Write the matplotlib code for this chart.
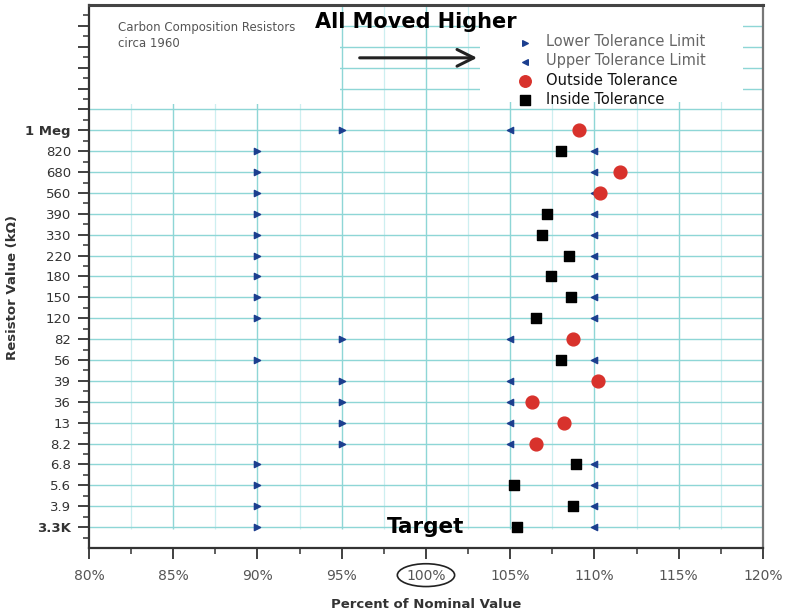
import numpy as np
from matplotlib import pyplot as plt
from matplotlib.patches import Ellipse, Rectangle
from matplotlib import transforms

plt.rcParams["font.family"] = ["DejaVu Sans"]

# resistor values, bottom row first
resistors = ["3.3K", "3.9", "5.6", "6.8", "8.2", "13", "36", "39", "56", "82",
             "120", "150", "180", "220", "330", "390", "560", "680", "820", "1 Meg"]
lower_limit = [90, 90, 90, 90, 95, 95, 95, 95, 90, 95,
               90, 90, 90, 90, 90, 90, 90, 90, 90, 95]
upper_limit = [110, 110, 110, 110, 105, 105, 105, 105, 110, 105,
               110, 110, 110, 110, 110, 110, 110, 110, 110, 105]
measured = [105.4, 108.7, 105.2, 108.9, 106.5, 108.2, 106.3, 110.2, 108.0, 108.7,
            106.5, 108.6, 107.4, 108.5, 106.9, 107.2, 110.3, 111.5, 108.0, 109.1]
x_ticks = [80, 85, 90, 95, 100, 105, 110, 115, 120]

BLUE = "#1c3f8f"
RED = "#d8322c"
GRID = "#8ed6d6"
GRID_MINOR = "#cdeff0"

y = np.arange(1, len(resistors) + 1)
lo = np.array(lower_limit)
hi = np.array(upper_limit)
val = np.array(measured)
outside = (val > hi) | (val < lo)

fig = plt.figure(figsize=(7.89, 6.16), dpi=100)
ax = fig.add_axes([0.1128, 0.1104, 0.8542, 0.8815])
ax.set_xlim(80, 120)
ax.set_ylim(0, 26)

# grid: vertical lines stop just under the bottom row
for xv in np.arange(82.5, 120, 5):
    ax.vlines(xv, 0.9, 26, color=GRID_MINOR, lw=0.9, zorder=0)
for xv in np.arange(85, 120, 5):
    ax.vlines(xv, 0.9, 26, color=GRID, lw=1.0, zorder=0)
for yv in np.arange(1, 26, 1):
    ax.axhline(yv, color=GRID, lw=1.0, zorder=0)

# white panels behind the note and the legend
ax.add_patch(Rectangle((0, 0.818), 0.372, 0.182, transform=ax.transAxes,
                       facecolor="white", edgecolor="none", zorder=1))
ax.add_patch(Rectangle((0.58, 0.822), 0.39, 0.178, transform=ax.transAxes,
                       facecolor="white", edgecolor="none", zorder=1))

ax.scatter(lo, y, marker=">", s=20, color=BLUE, zorder=3, label="Lower Tolerance Limit")
ax.scatter(hi, y, marker="<", s=20, color=BLUE, zorder=3, label="Upper Tolerance Limit")
ax.scatter(val[outside], y[outside], marker="o", s=85, color=RED, zorder=4,
           label="Outside Tolerance")
ax.scatter(val[~outside], y[~outside], marker="s", s=62, color="black", zorder=4,
           label="Inside Tolerance")

# ticks
ax.set_yticks(list(y) + list(range(21, 26)))
ax.set_yticklabels(resistors + [""] * 5, fontsize=9.5, color="#333333")
for lab in ax.get_yticklabels():
    if lab.get_text() in ("1 Meg", "3.3K"):
        lab.set_fontweight("bold")
ax.set_yticks(np.arange(0.5, 26, 0.5), minor=True)
ax.set_xticks(x_ticks)
ax.set_xticklabels([f"{v}%" for v in x_ticks], fontsize=10, color="#555555")
ax.set_xticks(np.arange(82.5, 120, 5), minor=True)
ax.tick_params(axis="both", which="major", direction="out", length=8, width=1.3,
               color="#333333")
ax.tick_params(axis="x", which="major", pad=7)
ax.tick_params(axis="y", which="major", pad=5)
ax.tick_params(axis="both", which="minor", direction="out", length=4, width=1.1,
               color="#333333")

for side in ("left", "bottom"):
    ax.spines[side].set_color("#333333")
    ax.spines[side].set_linewidth(1.6)
ax.spines["top"].set_color("#444444")
ax.spines["top"].set_linewidth(2.2)
ax.spines["right"].set_color("#777777")
ax.spines["right"].set_linewidth(1.6)

ax.set_xlabel("Percent of Nominal Value", fontsize=9.5, fontweight="bold",
              color="#333333")
ax.xaxis.set_label_coords(0.5, -0.092)
ax.set_ylabel("Resistor Value (kΩ)", fontsize=9.5, fontweight="bold",
              color="#333333")
ax.yaxis.set_label_coords(-0.104, 0.48)

# annotations
ax.text(81.7, 24.55, "Carbon Composition Resistors\ncirca 1960", fontsize=8.5,
        color="#555555", va="center", linespacing=1.35, zorder=2)
ax.text(99.4, 25.2, "All Moved Higher", fontsize=15, fontweight="bold",
        ha="center", va="center", zorder=5)
ax.annotate("", xy=(103.2, 23.47), xytext=(95.9, 23.47),
            arrowprops=dict(arrowstyle="->", lw=2.2, color="#222222",
                            mutation_scale=30), zorder=5)
ax.text(100, 1.0, "Target", fontsize=15.5, fontweight="bold", ha="center",
        va="center", zorder=5)

trans = transforms.blended_transform_factory(ax.transData, ax.transAxes)
ax.add_patch(Ellipse((100, -0.05), 3.4, 0.042, transform=trans, fill=False,
                     edgecolor="#222222", lw=1.2, clip_on=False))

leg = ax.legend(loc="upper left", bbox_to_anchor=(0.616, 0.97), fontsize=10.5,
                frameon=False, handlelength=1.0, handletextpad=1.0,
                labelspacing=0.28, borderpad=0.4, scatterpoints=1,
                markerscale=0.9)
for txt, col in zip(leg.get_texts(), ["#666666", "#666666", "#111111", "#111111"]):
    txt.set_color(col)
leg.set_zorder(2)

fig.savefig("out.png", dpi=100)
